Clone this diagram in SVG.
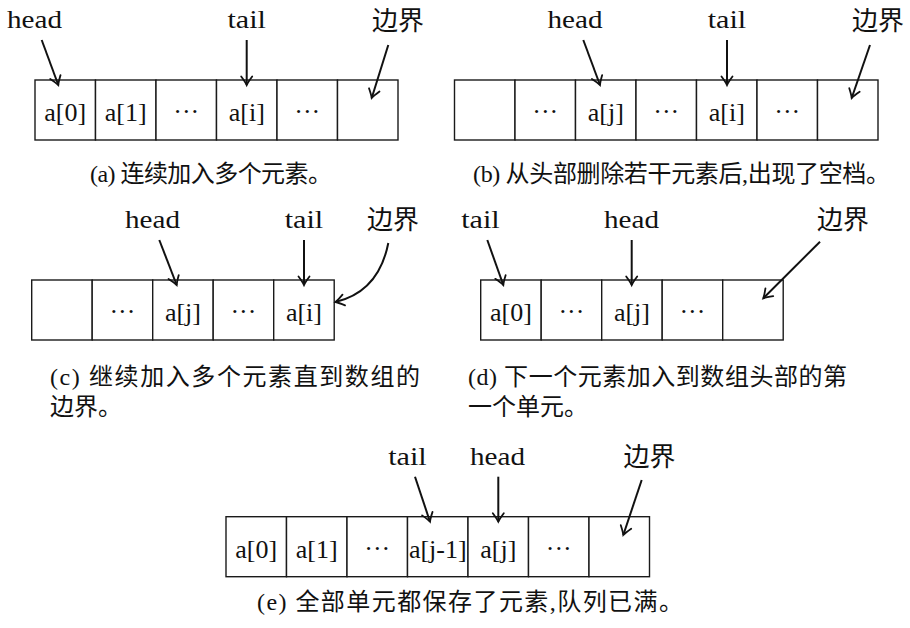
<svg xmlns="http://www.w3.org/2000/svg" width="910" height="628" viewBox="0 0 910 628">
<style>
  .cell { fill: #ffffff; stroke: #1a1a1a; stroke-width: 1.4; }
  .ct { font-family: "Liberation Serif", serif; font-size: 26px; fill: #111; text-anchor: middle; }
  .dots { font-family: "Liberation Serif", serif; font-size: 26px; fill: #111; text-anchor: middle; }
  .lbl { font-family: "Liberation Serif", serif; font-size: 26px; fill: #111; text-anchor: middle; }
  .cjk { font-family: "Noto Sans CJK SC", "Noto Sans CJK JP", sans-serif; font-size: 26px; fill: #111; }
  .cap { font-family: "Liberation Serif", "Noto Sans CJK SC", serif; font-size: 24px; fill: #111; }
  .arr { fill: none; stroke: #111; stroke-width: 2; marker-end: url(#ah); }
</style>
<defs>
  <marker id="ah" viewBox="-11 -7 13 14" refX="0" refY="0" markerWidth="13" markerHeight="14" markerUnits="userSpaceOnUse" orient="auto" overflow="visible">
    <path d="M-8.5,-5.5 Q-3,-1.4 0,0 Q-3,1.4 -8.5,5.5" fill="none" stroke="#111" stroke-width="1.8" stroke-linecap="round"/>
  </marker>
</defs>
<rect width="910" height="628" fill="#ffffff"/>

<!-- Panel (a) -->
<g id="panel-a">
  <g id="a-c0"><rect class="cell" x="35" y="80" width="60.5" height="60"/><text class="ct" x="65.25" y="121">a[0]</text></g>
  <g id="a-c1"><rect class="cell" x="95.5" y="80" width="60.5" height="60"/><text class="ct" x="125.75" y="121">a[1]</text></g>
  <g id="a-c2"><rect class="cell" x="156" y="80" width="60.5" height="60"/><text class="dots" x="186.25" y="120">···</text></g>
  <g id="a-c3"><rect class="cell" x="216.5" y="80" width="60.5" height="60"/><text class="ct" x="246.75" y="121">a[i]</text></g>
  <g id="a-c4"><rect class="cell" x="277" y="80" width="60.5" height="60"/><text class="dots" x="307.25" y="120">···</text></g>
  <g id="a-c5"><rect class="cell" x="337.5" y="80" width="60.5" height="60"/></g>
  <g id="a-head"><text class="lbl" x="34.5" y="28" textLength="55" lengthAdjust="spacingAndGlyphs">head</text></g>
  <g id="a-tail"><text class="lbl" x="246.7" y="28" textLength="38.5" lengthAdjust="spacingAndGlyphs">tail</text></g>
  <g id="a-bound"><text class="cjk" x="372" y="30">边界</text></g>
  <g id="a-caption"><text class="cap" x="90" y="182" textLength="242" lengthAdjust="spacing">(a) 连续加入多个元素。</text></g>
</g>

<!-- Panel (b) -->
<g id="panel-b">
  <g id="b-c0"><rect class="cell" x="454.5" y="80" width="60.5" height="60"/></g>
  <g id="b-c1"><rect class="cell" x="515" y="80" width="60.5" height="60"/><text class="dots" x="545.25" y="120">···</text></g>
  <g id="b-c2"><rect class="cell" x="575.5" y="80" width="60.5" height="60"/><text class="ct" x="605.75" y="121">a[j]</text></g>
  <g id="b-c3"><rect class="cell" x="636" y="80" width="60.5" height="60"/><text class="dots" x="666.25" y="120">···</text></g>
  <g id="b-c4"><rect class="cell" x="696.5" y="80" width="60.5" height="60"/><text class="ct" x="726.75" y="121">a[i]</text></g>
  <g id="b-c5"><rect class="cell" x="757" y="80" width="60.5" height="60"/><text class="dots" x="787.25" y="120">···</text></g>
  <g id="b-c6"><rect class="cell" x="817.5" y="80" width="60.5" height="60"/></g>
  <g id="b-head"><text class="lbl" x="575" y="28" textLength="55" lengthAdjust="spacingAndGlyphs">head</text></g>
  <g id="b-tail"><text class="lbl" x="727" y="28" textLength="38.5" lengthAdjust="spacingAndGlyphs">tail</text></g>
  <g id="b-bound"><text class="cjk" x="852" y="30">边界</text></g>
  <g id="b-caption"><text class="cap" x="473" y="182" textLength="417" lengthAdjust="spacing">(b) 从头部删除若干元素后,出现了空档。</text></g>
</g>

<!-- Panel (c) -->
<g id="panel-c">
  <g id="c-c0"><rect class="cell" x="31.7" y="280" width="60.5" height="60"/></g>
  <g id="c-c1"><rect class="cell" x="92.2" y="280" width="60.5" height="60"/><text class="dots" x="122.45" y="320">···</text></g>
  <g id="c-c2"><rect class="cell" x="152.7" y="280" width="60.5" height="60"/><text class="ct" x="182.95" y="321">a[j]</text></g>
  <g id="c-c3"><rect class="cell" x="213.2" y="280" width="60.5" height="60"/><text class="dots" x="243.45" y="320">···</text></g>
  <g id="c-c4"><rect class="cell" x="273.7" y="280" width="60.5" height="60"/><text class="ct" x="303.95" y="321">a[i]</text></g>
  <g id="c-head"><text class="lbl" x="152.5" y="228" textLength="55" lengthAdjust="spacingAndGlyphs">head</text></g>
  <g id="c-tail"><text class="lbl" x="304" y="228" textLength="38.5" lengthAdjust="spacingAndGlyphs">tail</text></g>
  <g id="c-bound"><text class="cjk" x="367" y="229">边界</text></g>
  <g id="c-caption">
    <text class="cap" x="50" y="385" textLength="370" lengthAdjust="spacing">(c) 继续加入多个元素直到数组的</text>
    <text class="cap" x="50" y="415">边界。</text>
  </g>
</g>

<!-- Panel (d) -->
<g id="panel-d">
  <g id="d-c0"><rect class="cell" x="480.7" y="280" width="60.5" height="60"/><text class="ct" x="510.95" y="321">a[0]</text></g>
  <g id="d-c1"><rect class="cell" x="541.2" y="280" width="60.5" height="60"/><text class="dots" x="571.45" y="320">···</text></g>
  <g id="d-c2"><rect class="cell" x="601.7" y="280" width="60.5" height="60"/><text class="ct" x="631.95" y="321">a[j]</text></g>
  <g id="d-c3"><rect class="cell" x="662.2" y="280" width="60.5" height="60"/><text class="dots" x="692.45" y="320">···</text></g>
  <g id="d-c4"><rect class="cell" x="722.7" y="280" width="60.5" height="60"/></g>
  <g id="d-tail"><text class="lbl" x="480.5" y="228" textLength="38.5" lengthAdjust="spacingAndGlyphs">tail</text></g>
  <g id="d-head"><text class="lbl" x="631.5" y="228" textLength="55" lengthAdjust="spacingAndGlyphs">head</text></g>
  <g id="d-bound"><text class="cjk" x="817" y="229">边界</text></g>
  <g id="d-caption">
    <text class="cap" x="468" y="385" textLength="379" lengthAdjust="spacing">(d) 下一个元素加入到数组头部的第</text>
    <text class="cap" x="468" y="415">一个单元。</text>
  </g>
</g>

<!-- Panel (e) -->
<g id="panel-e">
  <g id="e-c0"><rect class="cell" x="226" y="516.7" width="60.5" height="60"/><text class="ct" x="256.25" y="557.7">a[0]</text></g>
  <g id="e-c1"><rect class="cell" x="286.5" y="516.7" width="60.5" height="60"/><text class="ct" x="316.75" y="557.7">a[1]</text></g>
  <g id="e-c2"><rect class="cell" x="347" y="516.7" width="60.5" height="60"/><text class="dots" x="377.25" y="556.7">···</text></g>
  <g id="e-c3"><rect class="cell" x="407.5" y="516.7" width="60.5" height="60"/><text class="ct" x="437.75" y="557.7">a[j-1]</text></g>
  <g id="e-c4"><rect class="cell" x="468" y="516.7" width="60.5" height="60"/><text class="ct" x="498.25" y="557.7">a[j]</text></g>
  <g id="e-c5"><rect class="cell" x="528.5" y="516.7" width="60.5" height="60"/><text class="dots" x="558.75" y="556.7">···</text></g>
  <g id="e-c6"><rect class="cell" x="589" y="516.7" width="60.5" height="60"/></g>
  <g id="e-tail"><text class="lbl" x="407.5" y="465" textLength="38.5" lengthAdjust="spacingAndGlyphs">tail</text></g>
  <g id="e-head"><text class="lbl" x="497.5" y="465" textLength="55" lengthAdjust="spacingAndGlyphs">head</text></g>
  <g id="e-bound"><text class="cjk" x="623.5" y="466">边界</text></g>
  <g id="e-caption"><text class="cap" x="257" y="610" textLength="426" lengthAdjust="spacing">(e) 全部单元都保存了元素,队列已满。</text></g>
</g>

<!-- Connectors -->
<g id="connectors">
  <path class="arr" d="M41.7,40 L58.3,85"/>
  <path class="arr" d="M246.7,40 L246.7,85"/>
  <path class="arr" d="M388.3,45 L371.7,98"/>

  <path class="arr" d="M583.3,40 L600,85"/>
  <path class="arr" d="M727,40 L727,85"/>
  <path class="arr" d="M870,45 L851.7,98"/>

  <path class="arr" d="M159.3,240 L176.7,285"/>
  <path class="arr" d="M304,240 L304,285"/>
  <path class="arr" d="M388.3,243 C382,275 365,295 335.5,302"/>

  <path class="arr" d="M487.3,240 L503.3,285"/>
  <path class="arr" d="M631.7,240 L631.7,285"/>
  <path class="arr" d="M820,241.7 L763.3,298.3"/>

  <path class="arr" d="M415,476.7 L430,521.7"/>
  <path class="arr" d="M498.3,476.7 L498.3,521.7"/>
  <path class="arr" d="M641.7,480 L623.3,535"/>
</g>
</svg>
